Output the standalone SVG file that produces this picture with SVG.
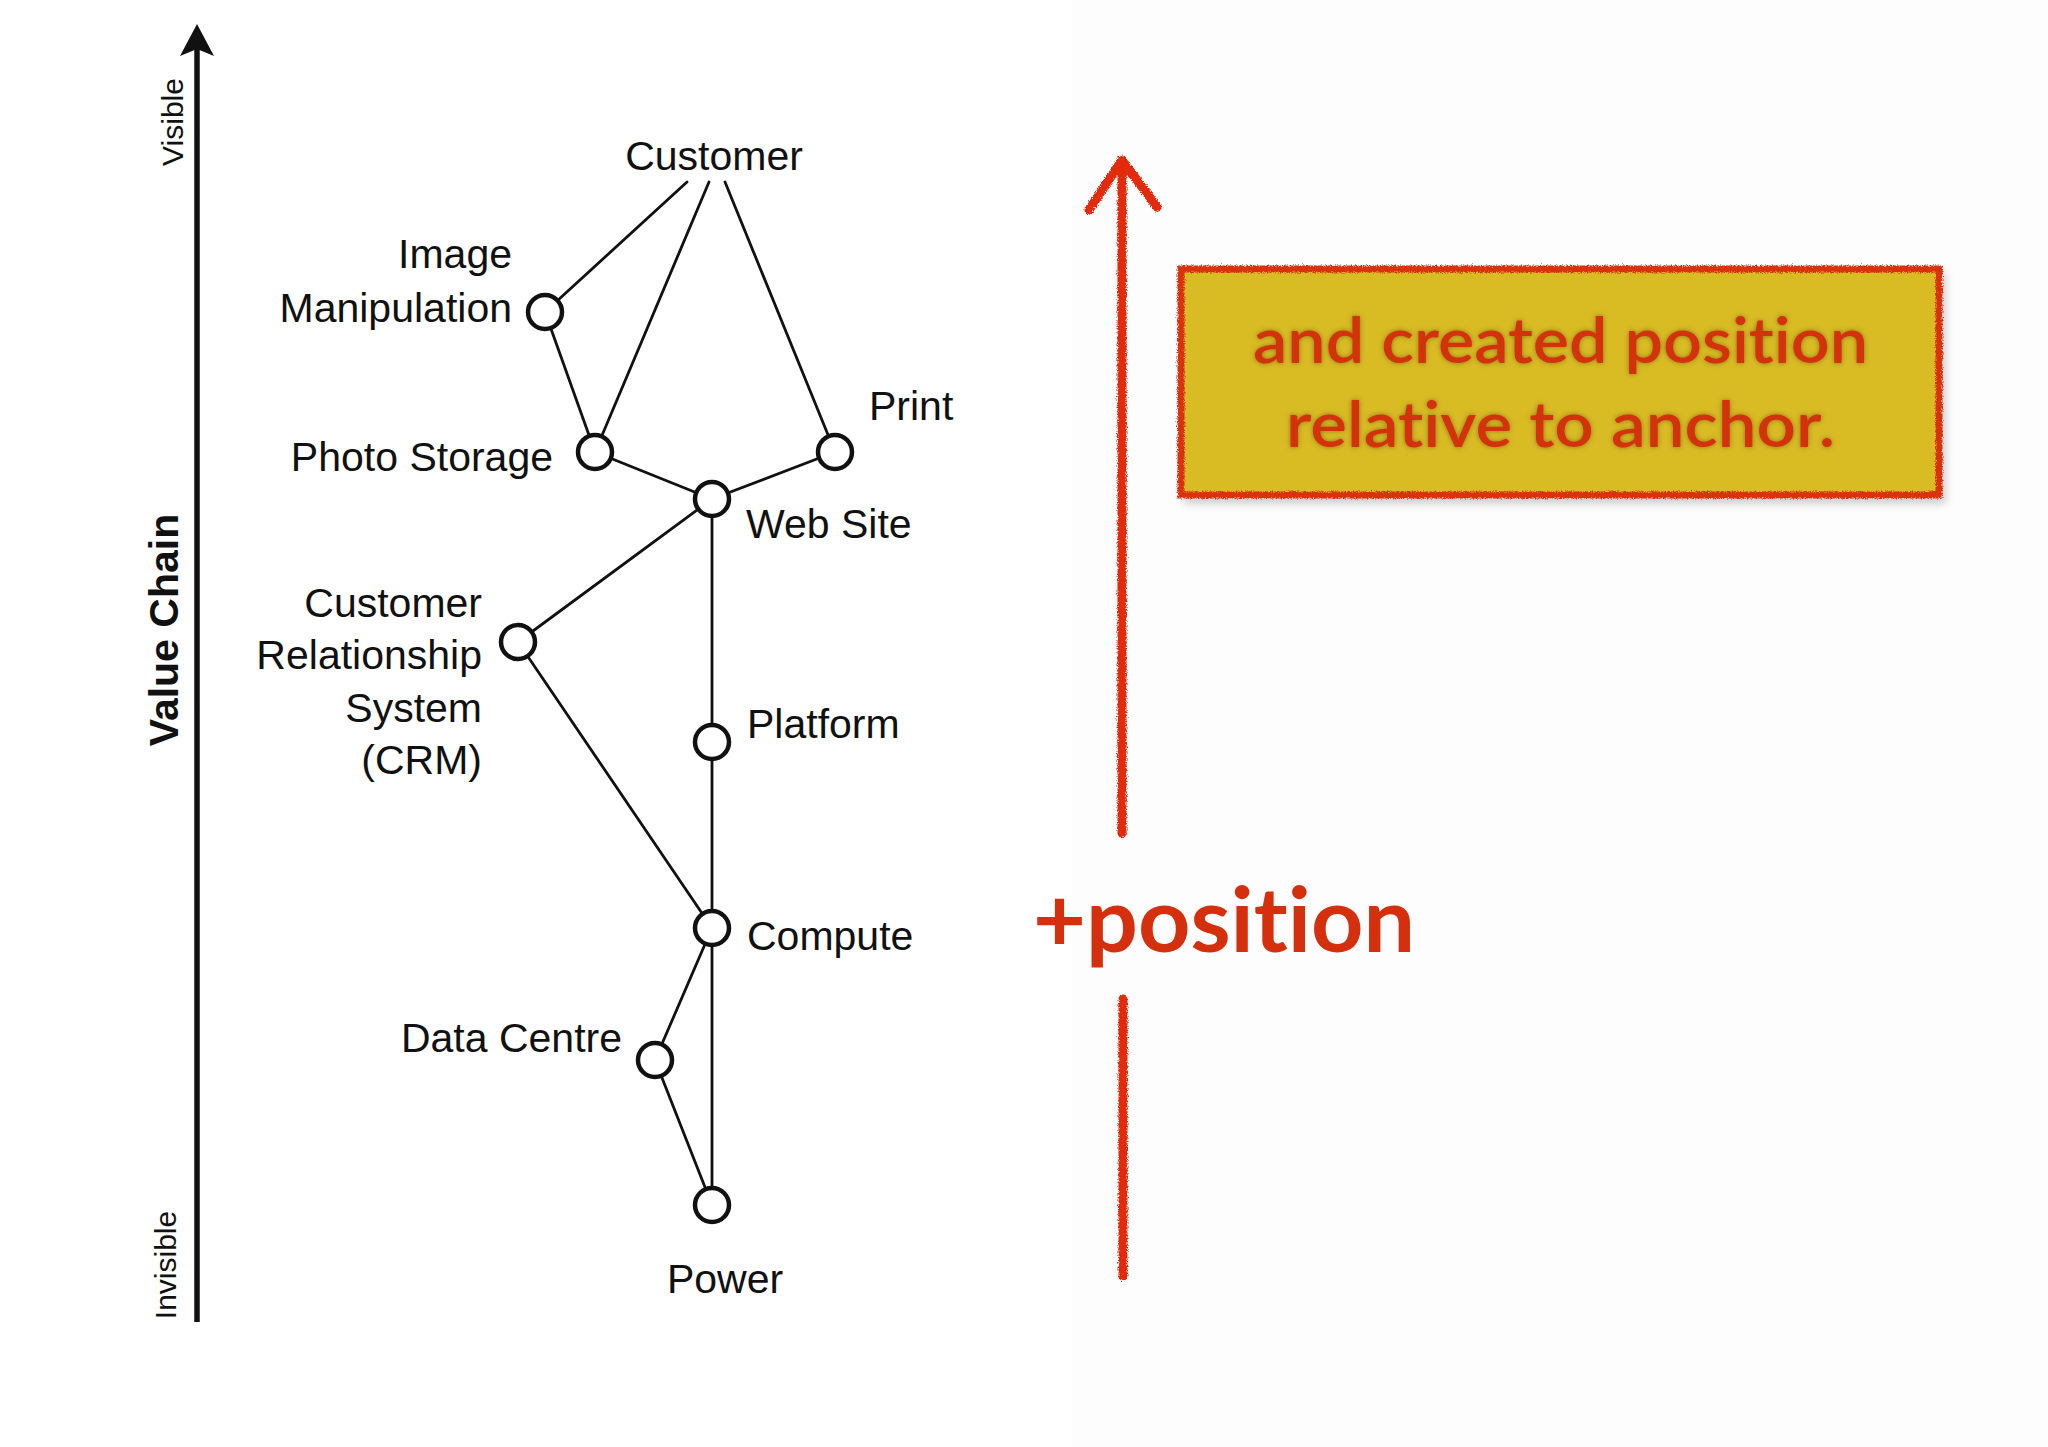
<svg xmlns="http://www.w3.org/2000/svg" width="2048" height="1447" viewBox="0 0 2048 1447">
<style>
.lbl{font-family:"Liberation Sans",Arial,sans-serif;font-size:41px;fill:#111}
.axis{font-family:"Liberation Sans",Arial,sans-serif;font-size:30px;fill:#111}
.edge{stroke:#111;stroke-width:2.8;fill:none;stroke-linecap:round}
.node{fill:#fff;stroke:#111;stroke-width:4.5}
.comic{font-family:Lato,"Open Sans",sans-serif;font-weight:bold;fill:#d4300e;font-variant-ligatures:none;font-feature-settings:"liga" 0}
.crayon{stroke:#e2290a;stroke-width:9;fill:none;stroke-linecap:round;stroke-linejoin:round}
</style>
<defs>
<filter id="rough" filterUnits="userSpaceOnUse" x="0" y="0" width="2048" height="1447">
<feTurbulence type="fractalNoise" baseFrequency="0.8" numOctaves="2" seed="3" result="n"/>
<feDisplacementMap in="SourceGraphic" in2="n" scale="5" xChannelSelector="R" yChannelSelector="G"/>
</filter>
<filter id="halo" x="-10%" y="-30%" width="120%" height="160%">
<feGaussianBlur in="SourceAlpha" stdDeviation="2.5" result="b"/>
<feFlood flood-color="#5a4a00" flood-opacity="0.6"/>
<feComposite in2="b" operator="in" result="s"/>
<feMerge><feMergeNode in="s"/><feMergeNode in="SourceGraphic"/></feMerge>
</filter>
<filter id="shadow" x="-10%" y="-20%" width="120%" height="140%">
<feGaussianBlur stdDeviation="4"/>
</filter>
</defs>
<rect x="0" y="0" width="2048" height="1447" fill="#fff"/>
<rect x="1072" y="0" width="976" height="1447" fill="#fdfdfd"/>

<g id="axis">
<line x1="197" y1="48" x2="197" y2="1322" stroke="#111" stroke-width="5.5"/>
<path d="M197,24 L214,56 L197,49 L180,56 Z" fill="#111"/>
<text class="axis" transform="translate(183,122) rotate(-90)" text-anchor="middle">Visible</text>
<text class="axis" transform="translate(176,1265) rotate(-90)" text-anchor="middle">Invisible</text>
<text transform="translate(178,630) rotate(-90)" text-anchor="middle" font-family="Liberation Sans,Arial,sans-serif" font-weight="bold" font-size="41" fill="#111">Value Chain</text>
</g>

<g id="connectors">
<line class="edge" x1="687" y1="182" x2="545" y2="312"/>
<line class="edge" x1="709" y1="182" x2="595" y2="452"/>
<line class="edge" x1="725" y1="182" x2="835" y2="452"/>
<line class="edge" x1="545" y1="312" x2="595" y2="452"/>
<line class="edge" x1="595" y1="452" x2="712" y2="499"/>
<line class="edge" x1="835" y1="452" x2="712" y2="499"/>
<line class="edge" x1="712" y1="499" x2="518" y2="642"/>
<line class="edge" x1="712" y1="499" x2="712" y2="742"/>
<line class="edge" x1="518" y1="642" x2="712" y2="928"/>
<line class="edge" x1="712" y1="742" x2="712" y2="928"/>
<line class="edge" x1="712" y1="928" x2="655" y2="1060"/>
<line class="edge" x1="712" y1="928" x2="712" y2="1205"/>
<line class="edge" x1="655" y1="1060" x2="712" y2="1205"/>
</g>

<g id="customer"><text class="lbl" x="714" y="170" text-anchor="middle">Customer</text></g>
<g id="image-manipulation">
<circle class="node" cx="545" cy="312" r="17"/>
<text class="lbl" x="512" y="268" text-anchor="end">Image</text>
<text class="lbl" x="512" y="322" text-anchor="end">Manipulation</text>
</g>
<g id="photo-storage">
<circle class="node" cx="595" cy="452" r="17"/>
<text class="lbl" x="553" y="471" text-anchor="end">Photo Storage</text>
</g>
<g id="print">
<circle class="node" cx="835" cy="452" r="17"/>
<text class="lbl" x="869" y="420">Print</text>
</g>
<g id="web-site">
<circle class="node" cx="712" cy="499" r="17"/>
<text class="lbl" x="746" y="538">Web Site</text>
</g>
<g id="crm">
<circle class="node" cx="518" cy="642" r="17"/>
<text class="lbl" x="482" y="617" text-anchor="end">Customer</text>
<text class="lbl" x="482" y="669" text-anchor="end">Relationship</text>
<text class="lbl" x="482" y="722" text-anchor="end">System</text>
<text class="lbl" x="482" y="774" text-anchor="end">(CRM)</text>
</g>
<g id="platform">
<circle class="node" cx="712" cy="742" r="17"/>
<text class="lbl" x="747" y="738">Platform</text>
</g>
<g id="compute">
<circle class="node" cx="712" cy="928" r="17"/>
<text class="lbl" x="747" y="950">Compute</text>
</g>
<g id="data-centre">
<circle class="node" cx="655" cy="1060" r="17"/>
<text class="lbl" x="622" y="1052" text-anchor="end">Data Centre</text>
</g>
<g id="power">
<circle class="node" cx="712" cy="1205" r="17"/>
<text class="lbl" x="725" y="1293" text-anchor="middle">Power</text>
</g>

<g id="red-arrow" filter="url(#rough)">
<line class="crayon" x1="1122" y1="165" x2="1122" y2="833"/>
<line class="crayon" x1="1123" y1="999" x2="1123" y2="1276"/>
<polyline class="crayon" points="1089,210 1122,160 1157,207"/>
</g>

<g id="position-label">
<text class="comic" x="1033" y="952" font-size="90" textLength="382" lengthAdjust="spacingAndGlyphs">+position</text>
</g>

<g id="note">
<rect x="1184" y="272" width="762" height="232" fill="#000" opacity="0.18" filter="url(#shadow)"/>
<rect x="1181" y="269" width="758" height="226" fill="#d9bb24"/>
<rect x="1181" y="269" width="758" height="226" fill="none" stroke="#d9300e" stroke-width="7" filter="url(#rough)"/>
<g filter="url(#halo)">
<text class="comic" x="1253" y="363" font-size="64" textLength="615" lengthAdjust="spacingAndGlyphs" style="font-weight:600">and created position</text>
<text class="comic" x="1286" y="447" font-size="64" textLength="549" lengthAdjust="spacingAndGlyphs" style="font-weight:600">relative to anchor.</text>
</g>
</g>
</svg>
